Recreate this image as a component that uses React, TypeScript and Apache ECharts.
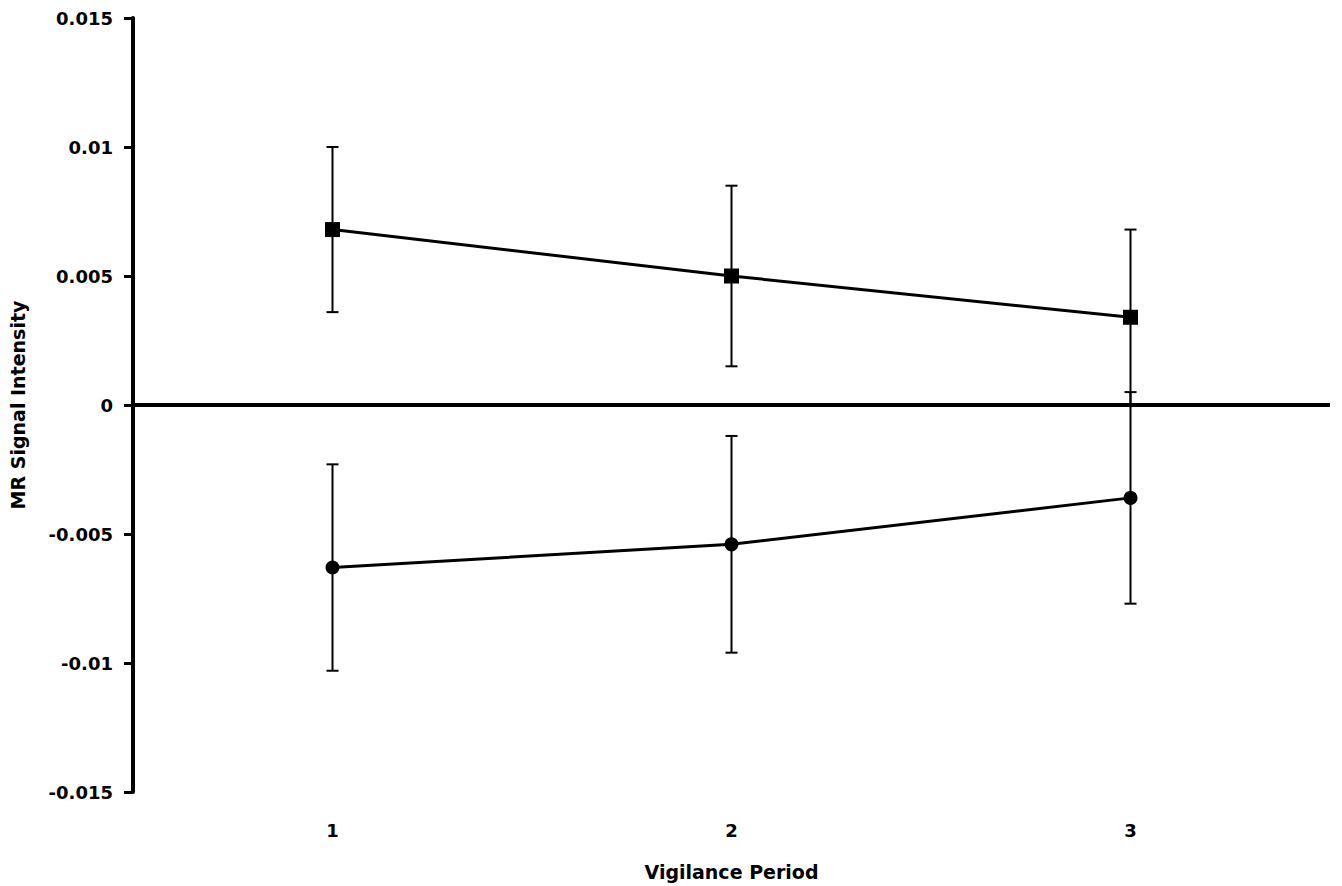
import React, { useEffect, useRef } from "react";
import * as echarts from "echarts";

const categories = ["1", "2", "3"];
const squareMeans = [0.0068, 0.005, 0.0034];
const squareErr = [0.0032, 0.0035, 0.0034];
const circleMeans = [-0.0063, -0.0054, -0.0036];
const circleErr = [0.004, 0.0042, 0.0041];
const yTicks = { min: -0.015, max: 0.015, interval: 0.005 };

const FONT = "DejaVu Sans";

function errData(means: number[], errs: number[]) {
  return means.map((m, i) => [i, m - errs[i], m + errs[i]]);
}

function renderErr(params: any, api: any) {
  const x = api.value(0);
  const lo = api.coord([x, api.value(1)]);
  const hi = api.coord([x, api.value(2)]);
  const cap = 6;
  const style = { stroke: "#000", lineWidth: 2 };
  return {
    type: "group",
    children: [
      { type: "line", shape: { x1: lo[0], y1: lo[1], x2: hi[0], y2: hi[1] }, style },
      { type: "line", shape: { x1: lo[0] - cap, y1: lo[1], x2: lo[0] + cap, y2: lo[1] }, style },
      { type: "line", shape: { x1: hi[0] - cap, y1: hi[1], x2: hi[0] + cap, y2: hi[1] }, style },
    ],
  };
}

export default function App() {
  const ref = useRef<HTMLDivElement>(null);
  useEffect(() => {
    if (!ref.current) return;
    const chart = echarts.init(ref.current, undefined, { renderer: "svg" });
    const labelStyle = { fontFamily: FONT, fontWeight: "bold", fontSize: 18, color: "#000" };
    chart.setOption({
      animation: false,
      backgroundColor: "#fff",
      grid: { left: 127, right: 12, top: 18, bottom: 91 },
      xAxis: {
        type: "category",
        data: categories,
        boundaryGap: true,
        axisLine: { show: false, onZero: false },
        axisTick: { show: false },
        axisLabel: { ...labelStyle, margin: 29 },
        name: "Vigilance Period",
        nameLocation: "middle",
        nameGap: 70,
        nameTextStyle: { ...labelStyle, fontSize: 19 },
        splitLine: { show: false },
      },
      yAxis: {
        type: "value",
        min: yTicks.min,
        max: yTicks.max,
        interval: yTicks.interval,
        axisLine: { show: true, lineStyle: { color: "#000", width: 4 } },
        axisTick: { show: true, length: 9, lineStyle: { color: "#000", width: 3 } },
        axisLabel: {
          ...labelStyle,
          margin: 20,
          formatter: (v: number) => {
            const r = Math.round(v * 1000) / 1000;
            return r === 0 ? "0" : String(r);
          },
        },
        splitLine: { show: false },
        name: "MR Signal Intensity",
        nameLocation: "middle",
        nameRotate: 90,
        nameGap: 106,
        nameTextStyle: { ...labelStyle, fontSize: 19 },
      },
      series: [
        {
          type: "custom",
          renderItem: renderErr,
          data: errData(squareMeans, squareErr),
          z: 1,
          silent: true,
        },
        {
          type: "custom",
          renderItem: renderErr,
          data: errData(circleMeans, circleErr),
          z: 1,
          silent: true,
        },
        {
          type: "line",
          data: squareMeans,
          symbol: "rect",
          symbolSize: 15,
          lineStyle: { color: "#000", width: 3 },
          itemStyle: { color: "#000" },
          z: 3,
          markLine: {
            silent: true,
            symbol: "none",
            label: { show: false },
            lineStyle: { color: "#000", width: 4, type: "solid" },
            data: [{ yAxis: 0 }],
          },
        },
        {
          type: "line",
          data: circleMeans,
          symbol: "circle",
          symbolSize: 14,
          lineStyle: { color: "#000", width: 3 },
          itemStyle: { color: "#000" },
          z: 3,
        },
      ],
    });
    return () => chart.dispose();
  }, []);
  return (
    <div
      ref={ref}
      style={{ position: "absolute", left: 0, top: 0, width: 1342, height: 886 }}
    />
  );
}
